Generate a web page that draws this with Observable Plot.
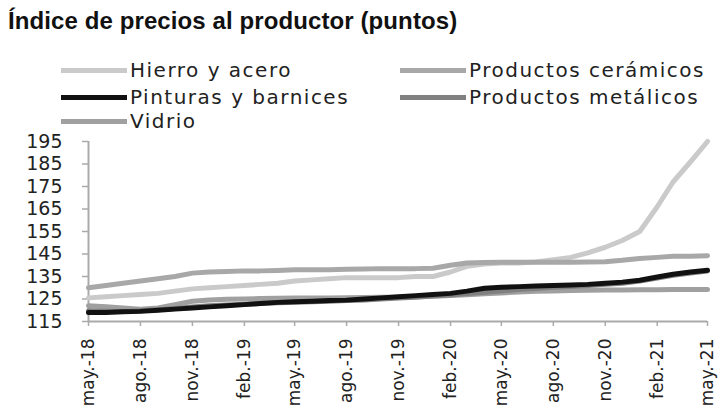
<!DOCTYPE html>
<html>
<head>
<meta charset="utf-8">
<script src="https://cdn.jsdelivr.net/npm/d3@7"></script>
<script src="https://cdn.jsdelivr.net/npm/@observablehq/plot@0.6"></script>
<style>
  html, body { margin: 0; padding: 0; background: #fff; }
  #wrap { position: relative; width: 720px; height: 412px; overflow: hidden; background: #fff; }
  #title { position: absolute; left: 8px; top: 7px; font-family: "Liberation Sans", Arial, sans-serif; font-weight: bold; font-size: 24px; color: #111; letter-spacing: 0.1px; white-space: nowrap; }
  .leg { position: absolute; font-family: "DejaVu Sans", sans-serif; font-size: 20px; color: #222; letter-spacing: 1.5px; line-height: 22px; white-space: nowrap; }
  .leg span.sw { display: inline-block; width: 66px; height: 5px; vertical-align: middle; margin-right: 3px; position: relative; top: -1px; }
  #chart { position: absolute; left: 0; top: 130px; }
</style>
</head>
<body>
<div id="wrap">
  <div id="title">Índice de precios al productor (puntos)</div>
  <div id="legend"></div>
  <div id="chart"></div>
</div>
<script>
// Monthly observations, may-2018 .. may-2021
const months = ["2018-05","2018-06","2018-07","2018-08","2018-09","2018-10","2018-11","2018-12",
  "2019-01","2019-02","2019-03","2019-04","2019-05","2019-06","2019-07","2019-08","2019-09","2019-10","2019-11","2019-12",
  "2020-01","2020-02","2020-03","2020-04","2020-05","2020-06","2020-07","2020-08","2020-09","2020-10","2020-11","2020-12",
  "2021-01","2021-02","2021-03","2021-04","2021-05"];

const hierroAcero = [125.5,126,126.5,127,127.5,128.5,129.5,130,130.5,131,131.5,132,133,133.5,134,134.5,134.5,134.5,134.5,135,
  135,137,139.5,140.5,141,141,141.5,142.5,143.5,145.5,148,151,155,166,177,186,195];
const productosCeramicos = [130,131,132,133,134,135,136.5,137,137.2,137.5,137.5,137.7,138,138,138,138.2,138.3,138.5,138.5,138.5,
  138.7,140,141,141.2,141.3,141.3,141.3,141.3,141.3,141.4,141.6,142.2,143,143.5,144,144,144.2];
const pinturasBarnices = [119,119,119.3,119.5,120,120.5,121,121.5,122,122.5,123,123.5,123.8,124,124.3,124.5,125,125.5,126,126.5,
  127,127.5,128.5,129.8,130.2,130.5,130.8,131,131.2,131.5,132,132.5,133.3,134.8,136,137,137.8];
const productosMetalicos = [119.8,119.6,119.5,119.8,120.2,120.8,121.5,122,122.3,122.7,123,123.3,123.5,123.8,124,124.3,124.6,125,125.4,125.8,
  126.3,126.8,127.4,128,128.6,129.2,129.7,130.2,130.6,131,131.5,132,133,134.3,135.5,136.6,137.4];
const vidrio = [122,121.6,121,120.4,121,122.5,124,124.6,124.9,125,125.2,125.3,125.4,125.4,125.5,125.6,125.7,125.8,125.8,126,
  126.2,126.5,126.9,127.3,127.7,128.1,128.4,128.6,128.8,128.9,129,129,129.1,129.1,129.2,129.2,129.2];

const seriesNames = ["Hierro y acero","Productos cerámicos","Pinturas y barnices","Productos metálicos","Vidrio"];
const seriesColors = ["#cacaca","#a8a8a8","#111111","#808080","#a0a0a0"];
const seriesValues = [hierroAcero, productosCeramicos, pinturasBarnices, productosMetalicos, vidrio];
const drawOrder = ["Hierro y acero","Productos cerámicos","Vidrio","Productos metálicos","Pinturas y barnices"];

const xTickMonths = ["2018-05","2018-08","2018-11","2019-02","2019-05","2019-08","2019-11","2020-02","2020-05","2020-08","2020-11","2021-02","2021-05"];
const xTickLabels = ["may.-18","ago.-18","nov.-18","feb.-19","may.-19","ago.-19","nov.-19","feb.-20","may.-20","ago.-20","nov.-20","feb.-21","may.-21"];
const yTicks = [115,125,135,145,155,165,175,185,195];

const parse = s => new Date(s + "-01T00:00:00Z");
const rows = [];
drawOrder.forEach(name => {
  const k = seriesNames.indexOf(name);
  seriesValues[k].forEach((v, i) => rows.push({serie: name, date: parse(months[i]), value: v}));
});
const xTicks = xTickMonths.map(parse);
const labelOf = new Map(xTickMonths.map((m, i) => [+parse(m), xTickLabels[i]]));

// legend
const legendPos = [[61,59],[400,59],[61,86],[400,86],[61,110]];
const legend = document.getElementById("legend");
seriesNames.forEach((name, k) => {
  const d = document.createElement("div");
  d.className = "leg";
  d.style.left = legendPos[k][0] + "px";
  d.style.top = legendPos[k][1] + "px";
  d.innerHTML = `<span class="sw" style="background:${seriesColors[k]}"></span>${name}`;
  legend.appendChild(d);
});

const chart = Plot.plot({
  width: 720,
  height: 282,
  marginTop: 11,
  marginBottom: 91,
  marginLeft: 88,
  marginRight: 13,
  style: {fontFamily: "DejaVu Sans, sans-serif", background: "transparent", color: "#222"},
  x: {type: "utc", domain: [parse(months[0]), parse(months[months.length - 1])]},
  y: {domain: [115, 195]},
  color: {domain: seriesNames, range: seriesColors},
  marks: [
    Plot.axisY({ticks: yTicks, tickSize: 6, tickPadding: 20, stroke: "#aaa", strokeWidth: 1.5, label: null,
      fontSize: 19, fill: "#222", style: "letter-spacing: 2.5px"}),
    Plot.axisX({ticks: xTicks, tickFormat: d => labelOf.get(+d), tickRotate: -90, tickSize: 5, tickPadding: 12,
      stroke: "#aaa", strokeWidth: 1.5, label: null, fontSize: 17, fill: "#222", style: "letter-spacing: 0.8px"}),
    Plot.ruleY([115], {stroke: "#aaa", strokeWidth: 2}),
    Plot.ruleX([parse(months[0])], {stroke: "#aaa", strokeWidth: 2}),
    Plot.line(rows, {x: "date", y: "value", z: "serie", stroke: "serie", strokeWidth: 5, curve: "linear"})
  ]
});
document.getElementById("chart").appendChild(chart);
</script>
</body>
</html>
